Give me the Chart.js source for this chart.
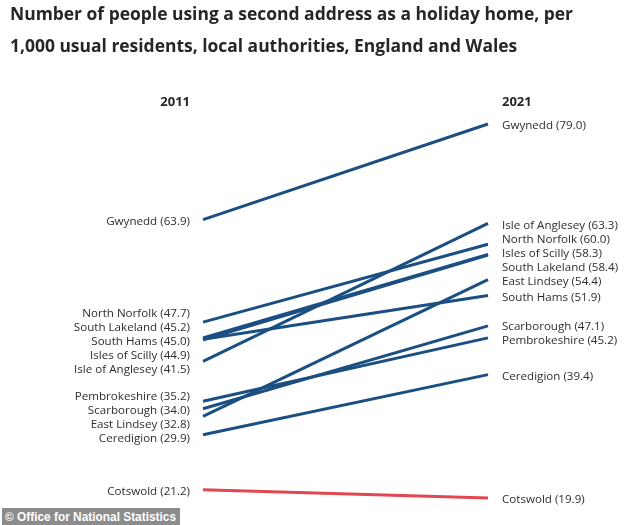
<!DOCTYPE html>
<html>
<head>
<meta charset="utf-8">
<script src="https://cdn.jsdelivr.net/npm/chart.js@4"></script>
<style>
  body { margin: 0; background: #fff; }
  #wrap { position: relative; width: 634px; height: 525px; overflow: hidden; }
  #title { position: absolute; left: 10px; top: -3px; font: 700 17.5px "Open Sans"; line-height: 32px; color: #262626; white-space: nowrap; transform-origin: 0 0; }
  #credit { position: absolute; left: 2px; top: 508px; height: 17px; width: 178px; background: #8c8c8c; }
  #credit span { position: absolute; left: 3px; top: 1px; font: 700 13px "Liberation Sans"; color: #fff; white-space: nowrap; transform-origin: 0 0; }
  canvas { position: absolute; left: 0; top: 0; }
</style>
</head>
<body>
<div id="wrap">
  <canvas id="slope-canvas" width="634" height="525"></canvas>
  <div id="title">Number of people using a second address as a holiday home, per<br>1,000 usual residents, local authorities, England and Wales</div>
  <div id="credit"><span>© Office for National Statistics</span></div>
</div>
<script>
const years = ['2011', '2021'];
const areas = ['Gwynedd', 'North Norfolk', 'South Hams', 'Isles of Scilly', 'South Lakeland', 'Isle of Anglesey',
    'Pembrokeshire', 'Scarborough', 'East Lindsey', 'Ceredigion', 'Cotswold'];
const values2011 = [63.9, 47.7, 45.0, 44.9, 45.2, 41.5, 35.2, 34.0, 32.8, 29.9, 21.2];
const values2021 = [79.0, 60.0, 51.9, 58.3, 58.4, 63.3, 45.2, 47.1, 54.4, 39.4, 19.9];
const highlighted = ['Cotswold'];

// squeeze title / credit to the width they have in the picture
function fitWidth(el, text, target){
    let probe = document.createElement('span');
    probe.style.font = getComputedStyle(el).font;
    probe.style.whiteSpace = 'nowrap';
    probe.style.position = 'absolute';
    probe.textContent = text;
    document.body.appendChild(probe);
    el.style.transform = 'scaleX(' + (target / probe.getBoundingClientRect().width) + ')';
    probe.remove();
}
fitWidth(document.getElementById('title'), 'Number of people using a second address as a holiday home, per', 563);
fitWidth(document.querySelector('#credit span'), '© Office for National Statistics', 171);

// spread labels apart so they don't overlap, groups centred on their lines
function spreadLabels(items, gap){
    items.sort((a, b) => Math.abs(a.value - b.value) < 0.15 ? a.idx - b.idx : b.value - a.value);
    let groups = items.map(it => ({ items: [it] }));
    let place = (g) => {
        let mean = g.items.reduce((s, it) => s + it.py, 0) / g.items.length;
        g.top = mean - (g.items.length - 1) * gap / 2;
        g.items.forEach((it, i) => it.ly = g.top + i * gap);
        g.bottom = g.top + (g.items.length - 1) * gap;
    };
    groups.forEach(place);
    let merged = true;
    while(merged){
        merged = false;
        for(let i = 0; i < groups.length - 1; i++){
            if(groups[i].bottom + gap > groups[i + 1].top + 0.01){
                groups[i].items = groups[i].items.concat(groups[i + 1].items);
                groups.splice(i + 1, 1);
                place(groups[i]);
                merged = true;
                break;
            }
        }
    }
    return items;
}

const labelPlugin = {
    id: 'slopeLabels',
    afterDatasetsDraw(chart){
        let ctx = chart.ctx;
        let area = chart.chartArea;
        let y = chart.scales.y;
        ctx.save();
        ctx.fillStyle = '#262626';
        ctx.font = 'bold 13px "Open Sans"';
        ctx.textBaseline = 'middle';
        ctx.textAlign = 'right';
        ctx.fillText(years[0], area.left - 13, area.top - 22);
        ctx.textAlign = 'left';
        ctx.fillText(years[1], area.right + 14, area.top - 22);

        ctx.font = '11.6px "Open Sans"';
        ctx.fillStyle = '#2e2e2e';
        [values2011, values2021].forEach((vals, side) => {
            let items = areas.map((a, i) => ({
                idx: i,
                value: vals[i],
                py: y.getPixelForValue(vals[i]),
                text: a + ' (' + vals[i].toFixed(1) + ')'
            }));
            spreadLabels(items, 14).forEach(it => {
                if(side == 0){
                    ctx.textAlign = 'right';
                    ctx.fillText(it.text, area.left - 13, it.ly + 2);
                }else{
                    ctx.textAlign = 'left';
                    ctx.fillText(it.text, area.right + 14, it.ly + 2);
                }
            });
        });
        ctx.restore();
    }
};

let ctx = document.getElementById('slope-canvas').getContext('2d');
let chart = new Chart(ctx, {
    type: 'line',
    data: {
        labels: years,
        datasets: areas.map((a, i) => ({
            label: a,
            data: [values2011[i], values2021[i]],
            borderColor: highlighted.includes(a) ? '#e0474f' : '#1b4f82',
            borderWidth: 3,
            pointRadius: 0,
            clip: false,
            tension: 0
        }))
    },
    options: {
        responsive: false,
        animation: false,
        layout: { padding: { left: 203, right: 146, top: 124, bottom: 27 } },
        scales: {
            x: { display: false, offset: false },
            y: { display: false, min: 19.9, max: 79.0 }
        },
        plugins: {
            legend: { display: false },
            tooltip: { enabled: false },
            title: { display: false }
        }
    },
    plugins: [labelPlugin]
});
</script>
</body>
</html>
